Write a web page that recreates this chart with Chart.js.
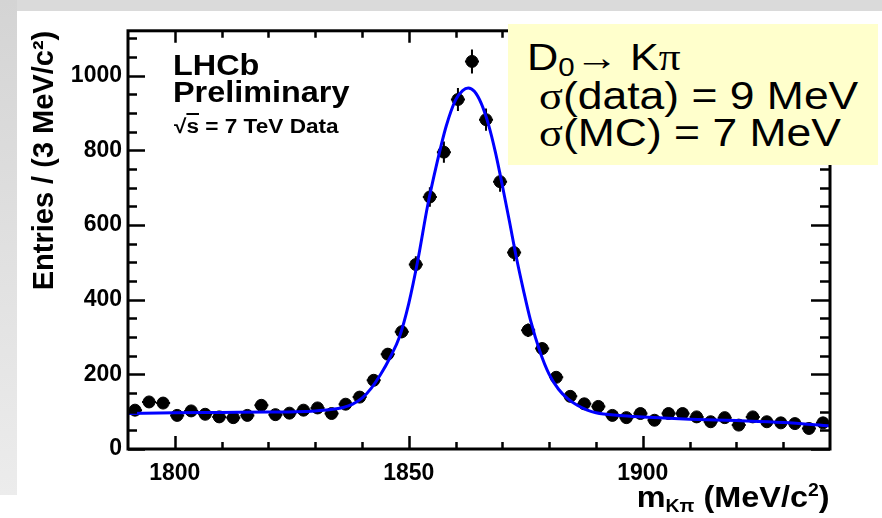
<!DOCTYPE html>
<html>
<head>
<meta charset="utf-8">
<script src="https://cdn.jsdelivr.net/npm/chart.js@4.4.0/dist/chart.umd.min.js"></script>
<style>
  html, body { margin: 0; padding: 0; width: 882px; height: 518px; overflow: hidden; background: #fff; }
  body { position: relative; font-family: "Liberation Sans", Arial, sans-serif; color: #000; }
  #frameTop { position: absolute; left: 0; top: 0; width: 882px; height: 11px; background: #dadada; }
  #frameLeft { position: absolute; left: 0; top: 0; width: 17px; height: 495px; background: linear-gradient(#d4d4d4, #ececec); }
  #wrap { position: absolute; left: 17px; top: 11px; width: 865px; height: 507px; background: #fff; }
  .txt { position: absolute; white-space: nowrap; transform-origin: left top; }
  .lhcb { font-weight: bold; font-size: 30px; line-height: 30px; left: 173px; transform: scaleX(1.08); }
  .energy { font-weight: bold; font-size: 20px; line-height: 20px; left: 174px; top: 116px; transform: scaleX(1.13); }
  .ovl { text-decoration: overline; }
  #infoBox { position: absolute; left: 508px; top: 24px; width: 370px; height: 141px; background: #ffffcc; }
  #infoBox .txt { font-weight: normal; transform: scaleX(1.17); }
  .sym { font-family: "Liberation Serif", "Times New Roman", serif; }
  sub, sup { line-height: 0; }
  #xTitle { right: 52px; top: 482px; font-weight: bold; font-size: 30px; line-height: 30px; transform-origin: right top; transform: scaleX(1.08); }
  #xTitle sub { font-size: 60%; vertical-align: -0.28em; }
  #xTitle sup { font-size: 60%; vertical-align: 0.6em; }
</style>
</head>
<body>
<div id="frameTop"></div>
<div id="frameLeft"></div>
<div id="wrap"><canvas id="chartMass" width="865" height="507"></canvas></div>

<div class="txt lhcb" style="top:50px">LHCb</div>
<div class="txt lhcb" style="top:77px">Preliminary</div>
<div class="txt energy">√<span class="ovl">s</span> = 7 TeV Data</div>

<div id="infoBox">
  <div class="txt" style="left:19px; top:15px; font-size:37px; line-height:37px;">D<sub style="font-size:68%; vertical-align:-0.25em;">0</sub>→ K<span class="sym">π</span></div>
  <div class="txt" style="left:31px; top:53px; font-size:38px; line-height:38px;"><span class="sym">σ</span>(data) = 9 MeV</div>
  <div class="txt" style="left:31px; top:90px; font-size:38px; line-height:38px;"><span class="sym">σ</span>(MC) = 7 MeV</div>
</div>

<div class="txt" id="xTitle">m<sub>Kπ</sub> (MeV/c<sup>2</sup>)</div>

<script>
// K-pi invariant mass, 3 MeV/c^2 bins between 1790 and 1940
const massBins = [
  1791.5, 1794.5, 1797.5, 1800.5, 1803.5, 1806.5, 1809.5, 1812.5, 1815.5, 1818.5,
  1821.5, 1824.5, 1827.5, 1830.5, 1833.5, 1836.5, 1839.5, 1842.5, 1845.5, 1848.5,
  1851.5, 1854.5, 1857.5, 1860.5, 1863.5, 1866.5, 1869.5, 1872.5, 1875.5, 1878.5,
  1881.5, 1884.5, 1887.5, 1890.5, 1893.5, 1896.5, 1899.5, 1902.5, 1905.5, 1908.5,
  1911.5, 1914.5, 1917.5, 1920.5, 1923.5, 1926.5, 1929.5, 1932.5, 1935.5, 1938.5
];
const entries = [
  104, 126, 123, 90, 102, 93, 86, 84, 90, 117,
  92, 96, 104, 110, 95, 120, 139, 184, 254, 314,
  494, 675, 795, 936, 1038, 882, 716, 526, 318, 269,
  192, 141, 121, 114, 90, 84, 95, 77, 95, 95,
  86, 73, 84, 64, 86, 73, 70, 68, 55, 70
];

// fitted signal + background curve
const fitMass = [
  1790, 1800, 1810, 1820, 1826, 1830, 1833, 1836, 1838, 1840,
  1842, 1844, 1846, 1848, 1850, 1852, 1854, 1856, 1858, 1860,
  1861.5, 1862.7, 1864, 1865.5, 1867, 1868.5, 1870, 1871.5, 1873, 1874.5,
  1876, 1878, 1880, 1882, 1884, 1886, 1888, 1890, 1895, 1900,
  1910, 1920, 1930, 1940
];
const fitEntries = [
  95, 97, 98, 99, 100, 102, 105, 111, 120, 136,
  163, 200, 245, 300, 390, 510, 650, 765, 865, 935,
  960, 967, 958, 925, 870, 795, 705, 610, 512, 425,
  345, 262, 200, 160, 134, 117, 105, 97, 90, 86,
  80, 76, 71, 62
];

const xTickValues = [1800, 1850, 1900];
const yTickValues = [0, 200, 400, 600, 800, 1000];

const X_MIN = 1790, X_MAX = 1940, Y_MIN = 0, Y_MAX = 1120;
const BIN_HALF = 1.5;

Chart.defaults.font.family = '"Liberation Sans", Arial, sans-serif';
Chart.defaults.color = '#000';

// ROOT-style frame: error bars under the markers, inward ticks on all four sides
const rootFrame = {
  id: 'rootFrame',
  beforeDatasetsDraw(chart) {
    const { ctx, scales: { x, y } } = chart;
    ctx.save();
    ctx.strokeStyle = '#000';
    ctx.lineWidth = 2;
    massBins.forEach((m, i) => {
      const n = entries[i];
      const err = Math.sqrt(n); // poisson error
      const px = x.getPixelForValue(m);
      const py = y.getPixelForValue(n);
      ctx.beginPath();
      ctx.moveTo(px, y.getPixelForValue(n - err));
      ctx.lineTo(px, y.getPixelForValue(n + err));
      ctx.moveTo(x.getPixelForValue(m - BIN_HALF), py);
      ctx.lineTo(x.getPixelForValue(m + BIN_HALF), py);
      ctx.stroke();
    });
    ctx.restore();
  },
  afterDraw(chart) {
    const { ctx, chartArea: a, scales: { x, y } } = chart;
    ctx.save();
    ctx.strokeStyle = '#000';
    ctx.lineWidth = 2.5;
    ctx.beginPath();
    for (let v = Y_MIN; v <= Y_MAX; v += 50) {
      const py = Math.round(y.getPixelForValue(v)) + 0.5;
      const major = v % 200 === 0;
      ctx.moveTo(a.left, py); ctx.lineTo(a.left + (major ? 17 : 9), py);
      ctx.moveTo(a.right, py); ctx.lineTo(a.right - (major ? 19 : 10), py);
    }
    for (let v = 1800; v < X_MAX; v += 10) {
      const px = Math.round(x.getPixelForValue(v)) + 0.5;
      const major = v % 50 === 0;
      ctx.moveTo(px, a.bottom); ctx.lineTo(px, a.bottom - (major ? 13 : 7));
      ctx.moveTo(px, a.top); ctx.lineTo(px, a.top + (major ? 12 : 7));
    }
    ctx.stroke();
    ctx.lineWidth = 3;
    ctx.strokeRect(a.left, a.top, a.right - a.left, a.bottom - a.top);
    ctx.restore();
  }
};

new Chart(document.getElementById('chartMass'), {
  type: 'scatter',
  data: {
    datasets: [
      {
        label: 'fit',
        type: 'line',
        data: fitMass.map((m, i) => ({ x: m, y: fitEntries[i] })),
        borderColor: '#0000ff',
        borderWidth: 3,
        pointRadius: 0,
        fill: false,
        cubicInterpolationMode: 'monotone'
      },
      {
        label: 'data',
        data: massBins.map((m, i) => ({ x: m, y: entries[i] })),
        backgroundColor: '#000',
        borderColor: '#000',
        pointRadius: 6,
        pointStyle: 'circle'
      }
    ]
  },
  options: {
    responsive: false,
    animation: false,
    layout: { padding: { top: 16, right: 52, left: 0, bottom: 0 } },
    plugins: { legend: { display: false }, tooltip: { enabled: false } },
    scales: {
      x: {
        type: 'linear',
        min: X_MIN,
        max: X_MAX,
        afterFit: s => { s.height = 69; },
        afterBuildTicks: s => { s.ticks = xTickValues.map(v => ({ value: v })); },
        grid: { display: false, drawTicks: false },
        border: { display: false },
        ticks: { padding: 11, color: '#000', font: { size: 23, weight: 'bold' }, callback: v => String(v) }
      },
      y: {
        min: Y_MIN,
        max: Y_MAX,
        afterFit: s => { s.width = 111; },
        afterBuildTicks: s => { s.ticks = yTickValues.map(v => ({ value: v })); },
        grid: { display: false, drawTicks: false },
        border: { display: false },
        ticks: { padding: 6, color: '#000', font: { size: 23, weight: 'bold' }, callback: v => String(v) },
        title: {
          display: true,
          text: 'Entries / (3 MeV/c²)',
          align: 'end',
          color: '#000',
          font: { size: 29, weight: 'bold' },
          padding: { top: 11, bottom: 0 }
        }
      }
    }
  },
  plugins: [rootFrame]
});
</script>
</body>
</html>
